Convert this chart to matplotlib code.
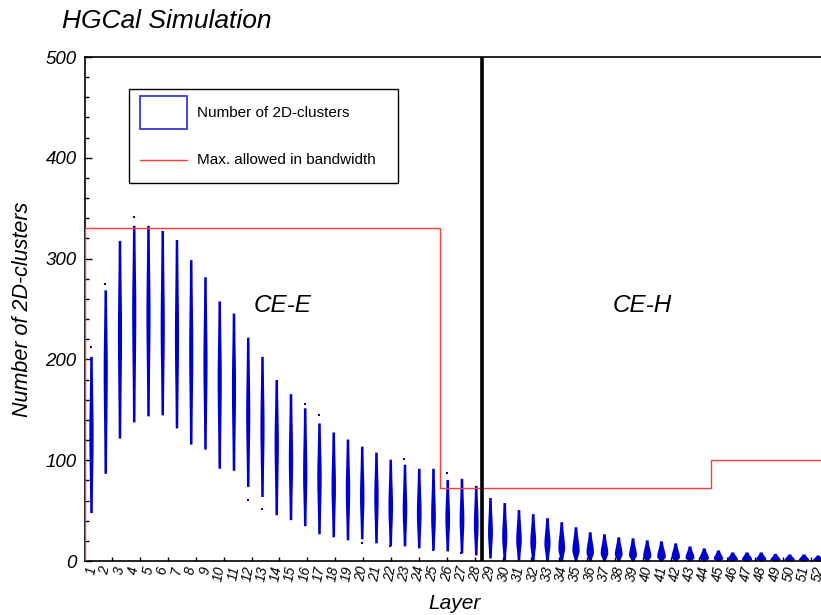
import matplotlib
matplotlib.use("Agg")
import matplotlib.pyplot as plt
import numpy as np
from matplotlib.patches import Rectangle
from matplotlib.lines import Line2D

plt.rcParams['font.family'] = ['Liberation Sans', 'DejaVu Sans']

# data
layers = np.arange(1, 53)
lo = [48, 87, 122, 138, 144, 145, 132, 116, 111, 92, 90, 74, 64, 46,
      41, 35, 27, 24, 21, 22, 18, 15, 15, 13, 11, 10, 8, 6,
      3, 1, 1, 0, 0, 0, 0, 0, 0, 0, 0, 0, 0, 0, 0, 0, 0, 0, 0, 0, 0, 0, 0, 0]
hi = [203, 269, 318, 333, 333, 328, 319, 299, 282, 258, 246, 222, 203, 180,
      166, 152, 137, 128, 121, 114, 108, 101, 96, 92, 92, 81, 82, 75,
      63, 58, 51, 47, 43, 39, 34, 29, 27, 24, 23, 21, 20, 18, 15, 13, 11,
      9, 9, 9, 7.6, 7, 7, 6]
mode = [125, 190, 226, 249, 246, 232, 222, 209, 199, 180, 173, 146, 133, 118,
        100, 87, 84, 74, 70, 64, 64, 54, 51, 47, 44, 42, 41, 37,
        28, 24, 21, 19, 17.5, 13, 11, 9, 8, 7, 6, 5, 4.5, 4, 3.5, 3, 2.5,
        2, 2, 2, 1.5, 1.5, 1.5, 1.2]
# widest full width of each violin, in layer units
peak = [0.30, 0.29, 0.29, 0.29, 0.29, 0.29, 0.29, 0.29, 0.29, 0.29, 0.29, 0.29, 0.29, 0.30,
        0.30, 0.30, 0.31, 0.31, 0.31, 0.31, 0.31, 0.32, 0.32, 0.33, 0.33, 0.33, 0.33, 0.33,
        0.34, 0.36, 0.39, 0.41, 0.43, 0.47, 0.51, 0.52, 0.53, 0.54, 0.55, 0.57, 0.60, 0.60,
        0.63, 0.66, 0.66, 0.72, 0.72, 0.72, 0.72, 0.72, 0.72, 0.72]
# isolated entries at the tips of some violins
out_layer = [1, 2, 4, 12, 13, 16, 17, 20, 22, 23, 25, 26, 27]
out_value = [212, 275, 341, 61, 52, 156, 145, 18, 15, 101, 11, 87, 8]

budget_edges = [0.58, 25.5, 44.5, 52.6]
budget_vals = [330, 72, 100]

W, H = 821, 615
fig = plt.figure(figsize=(8.21, 6.15), dpi=100)
ax = fig.add_axes([85 / W, 1 - 561 / H, (825 - 85) / W, 504 / H])

blue = '#0000cc'
for k, x in enumerate(layers):
    y = np.linspace(lo[k], hi[k], 200)
    su = max(hi[k] - mode[k], 0.5) / 2.3
    sl = max(mode[k] - lo[k], 0.5) / 2.3
    s = np.where(y > mode[k], su, sl)
    g = np.exp(-0.5 * ((y - mode[k]) / s) ** 2)
    tail = 0.085
    hw = tail + (peak[k] / 2 - tail) * g
    ax.fill_betweenx(y, x - hw, x + hw, color=blue, lw=0, zorder=2)
ax.scatter(out_layer, out_value, s=4.5, marker='s', color=blue, lw=0, zorder=2)

# bandwidth limit
ax.stairs(budget_vals, budget_edges, color='#ff3b3b', lw=1.0, zorder=3)
# CE-E / CE-H boundary
ax.axvline(28.45, color='black', lw=2.6, zorder=4)

ax.set_xlim(0.58, 52.51)
ax.set_ylim(0, 500)
ax.set_xticks(layers)
ax.set_xticklabels([str(v) for v in layers], rotation=80, fontsize=10,
                   style='italic', ha='center', va='top')
ax.tick_params(axis='x', which='major', length=0, pad=3)
ax.set_xticks(np.arange(2.45, 53, 1.963), minor=True)
ax.tick_params(axis='x', which='minor', direction='in', length=3, width=1)
ax.set_yticks(np.arange(0, 501, 100))
ax.set_yticks(np.arange(0, 501, 20), minor=True)
ax.tick_params(axis='y', which='major', direction='in', length=5, width=1,
               labelsize=13.5, pad=6)
ax.tick_params(axis='y', which='minor', direction='in', length=3, width=1)
for t in ax.get_yticklabels():
    t.set_style('italic')
for sp in ax.spines.values():
    sp.set_linewidth(1.2)

ax.set_xlabel('Layer', fontsize=15, style='italic', labelpad=8)
ax.set_ylabel('Number of 2D-clusters', fontsize=15.5, style='italic', labelpad=9)

ax.text(14.47, 253, 'CE-E', fontsize=17.5, style='italic', ha='center', va='center')
ax.text(39.67, 253, 'CE-H', fontsize=17.5, style='italic', ha='center', va='center')

fig.text(62 / W, 1 - 28.5 / H, 'HGCal Simulation', fontsize=19, style='italic',
         ha='left', va='baseline')

# legend box drawn by hand
def fx(px):
    return px / W

def fy(py):
    return 1 - py / H

fig.add_artist(Rectangle((fx(129), fy(183)), (398 - 129) / W, (183 - 89) / H,
                         transform=fig.transFigure, facecolor='white',
                         edgecolor='black', lw=1.0, zorder=10))
fig.add_artist(Rectangle((fx(140), fy(129)), 47 / W, 33 / H,
                         transform=fig.transFigure, facecolor='white',
                         edgecolor='#3a3ad8', lw=1.3, zorder=11))
fig.add_artist(Line2D([fx(140), fx(187)], [fy(160), fy(160)],
                      transform=fig.transFigure, color='#ff3b3b', lw=1.0, zorder=11))
fig.text(fx(197), fy(113), 'Number of 2D-clusters', fontsize=11, ha='left',
         va='center', zorder=12)
fig.text(fx(197), fy(160), 'Max. allowed in bandwidth', fontsize=11, ha='left',
         va='center', zorder=12)

fig.savefig('out.png', dpi=100)
